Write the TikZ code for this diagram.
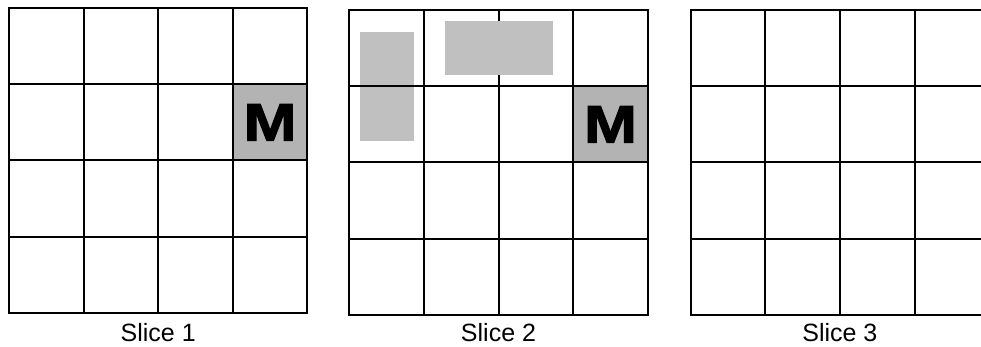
\documentclass[tikz,border=0pt]{standalone}
\usepackage{graphicx}
\usepackage{fontspec}
\setmainfont{Liberation Sans}
\newfontfamily\markfont[FakeBold=2]{Liberation Sans Bold}
\usetikzlibrary{positioning}
\definecolor{blockgray}{HTML}{C0C0C0}
\definecolor{markgray}{HTML}{B3B3B3}

\begin{document}
\begin{tikzpicture}[
		x=0.5pt, y=-0.5pt,
		cell/.style={
			draw=black, line width=1pt, inner sep=0pt, outer sep=0pt,
			minimum width=37.3pt, minimum height=38.1pt
		},
		markcell/.style={cell, fill=markgray, font=\fontsize{26.5}{30}\selectfont\markfont},
		block/.style={fill=blockgray, draw=none},
		slicelabel/.style={font=\fontsize{12.5}{15}\selectfont, anchor=base}
		]
		
		\useasboundingbox (0,0) rectangle (981,347);
		
		% ==========================================
		% SLICE 1
		% ==========================================
		\begin{scope}[shift={(9,8)}]
			\foreach \r in {1,...,4}
			\foreach \c in {1,...,4}
			\node[cell] (s1-\r-\c) at ({(\c-0.5)*74.6}, {(\r-0.5)*76.2}) {};
			
			% Marked cell
			\node[markcell] (m1) at (s1-2-4) {\scalebox{1.2}[1]{M}};
			
			% Caption
			\node[slicelabel] (label1) at (149.2, 333.5) {Slice 1};
		\end{scope}
		
		% ==========================================
		% SLICE 2
		% ==========================================
		\begin{scope}[shift={(349.3,10)}]
			% Block under the grid lines
			\fill[block] (10.7,22) rectangle (64.7,131);
			
			\foreach \r in {1,...,4}
			\foreach \c in {1,...,4}
			\node[cell] (s2-\r-\c) at ({(\c-0.5)*74.6}, {(\r-0.5)*76.2}) {};
			
			% Block over the grid lines
			\fill[block] (95.7,11) rectangle (203.7,64.7);
			
			% Marked cell
			\node[markcell] (m2) at (s2-2-4) {\scalebox{1.2}[1]{M}};
			
			% Caption
			\node[slicelabel] (label2) at (149.2, 331.5) {Slice 2};
		\end{scope}
		
		% ==========================================
		% SLICE 3
		% ==========================================
		\begin{scope}[shift={(690.7,10)}]
			\foreach \r in {1,...,4}
			\foreach \c in {1,...,4}
			\node[cell] (s3-\r-\c) at ({(\c-0.5)*74.6}, {(\r-0.5)*76.2}) {};
			
			% Caption
			\node[slicelabel] (label3) at (149.2, 331.5) {Slice 3};
		\end{scope}
		
	\end{tikzpicture}
\end{document}
